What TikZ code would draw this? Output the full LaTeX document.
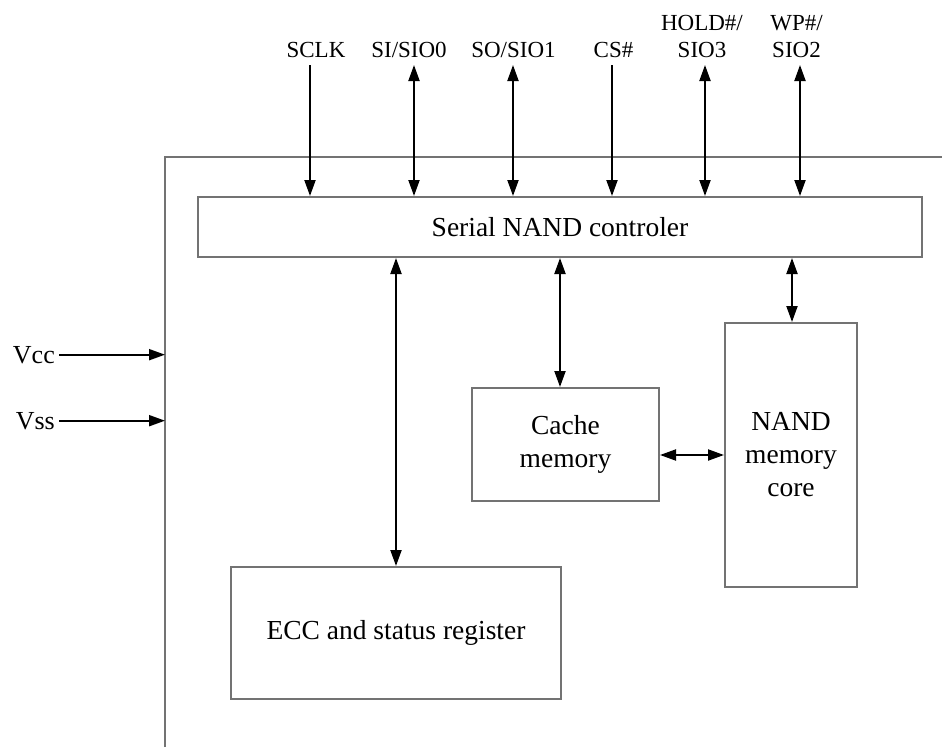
\documentclass[tikz,border=0pt]{standalone}
\usepackage{fontspec}
\setmainfont{Liberation Serif}
\usetikzlibrary{arrows.meta}
\begin{document}
\begin{tikzpicture}[x=1pt,y=-1pt,
  box/.style={draw=black!55, line width=2pt, inner sep=0pt, align=center,
    font=\fontsize{27.5}{33}\selectfont},
  lbl/.style={font=\fontsize{23}{27}\selectfont, inner sep=0pt, align=center, anchor=base},
  pwr/.style={font=\fontsize{26}{30}\selectfont, inner sep=0pt, anchor=base east},
  arr/.style={line width=2pt, -{Triangle[length=16pt,width=11pt]}},
  dbl/.style={line width=2pt, {Triangle[length=16pt,width=11pt]}-{Triangle[length=16pt,width=11pt]}},
  frame/.style={draw=black!55, line width=2pt}
]
\useasboundingbox (0,0) rectangle (942,747);

% outer frame (open to the right and bottom)
\coordinate (fbl) at (165,747);
\coordinate (ftl) at (165,157);
\coordinate (ftr) at (942,157);
\draw[frame] (fbl) -- (ftl) -- (ftr);

% blocks
\node[box, minimum width=724pt, minimum height=60pt] (ctrl) at (560,227) {Serial NAND controler};
\node[box, minimum width=187pt, minimum height=113pt] (cache) at (565.5,444.5) {Cache\\memory};
\node[box, minimum width=132pt, minimum height=264pt] (nand) at (791,455) {NAND\\memory\\core};
\node[box, minimum width=330pt, minimum height=132pt] (ecc) at (396,633) {ECC and status register};

% top pin labels
\node[lbl] (sclk) at (316,57) {SCLK};
\node[lbl] (si) at (409,57) {SI/SIO0};
\node[lbl] (so) at (513.5,57) {SO/SIO1};
\node[lbl] (cs) at (613.5,57) {CS\#};
\node[lbl] (hold) at (702,57) {HOLD\#/\\SIO3};
\node[lbl] (wp) at (796.5,57) {WP\#/\\SIO2};

% top pin arrow ends
\coordinate (p1) at (310,65);
\coordinate (p2) at (414,65);
\coordinate (p3) at (513,65);
\coordinate (p4) at (612,65);
\coordinate (p5) at (705,65);
\coordinate (p6) at (800,65);
\draw[arr] (p1) -- (p1 |- ctrl.north);
\draw[dbl] (p2) -- (p2 |- ctrl.north);
\draw[dbl] (p3) -- (p3 |- ctrl.north);
\draw[arr] (p4) -- (p4 |- ctrl.north);
\draw[dbl] (p5) -- (p5 |- ctrl.north);
\draw[dbl] (p6) -- (p6 |- ctrl.north);

% internal connections
\draw[dbl] (ecc.north |- ctrl.south) -- (ecc.north);
\draw[dbl] ([xshift=-5.5pt]cache.north |- ctrl.south) -- ([xshift=-5.5pt]cache.north);
\draw[dbl] ([xshift=1pt]nand.north |- ctrl.south) -- ([xshift=1pt]nand.north);
\draw[dbl] ([yshift=-10.5pt]cache.east) -- ([yshift=-10.5pt]cache.east -| nand.west);

% power pins
\node[pwr] (vcc) at (55,363) {Vcc};
\node[pwr] (vss) at (55,429) {Vss};
\draw[arr] ([xshift=4pt]vcc.east) -- (vcc.east -| ftl);
\draw[arr] ([xshift=4pt]vss.east) -- (vss.east -| ftl);
\end{tikzpicture}
\end{document}
